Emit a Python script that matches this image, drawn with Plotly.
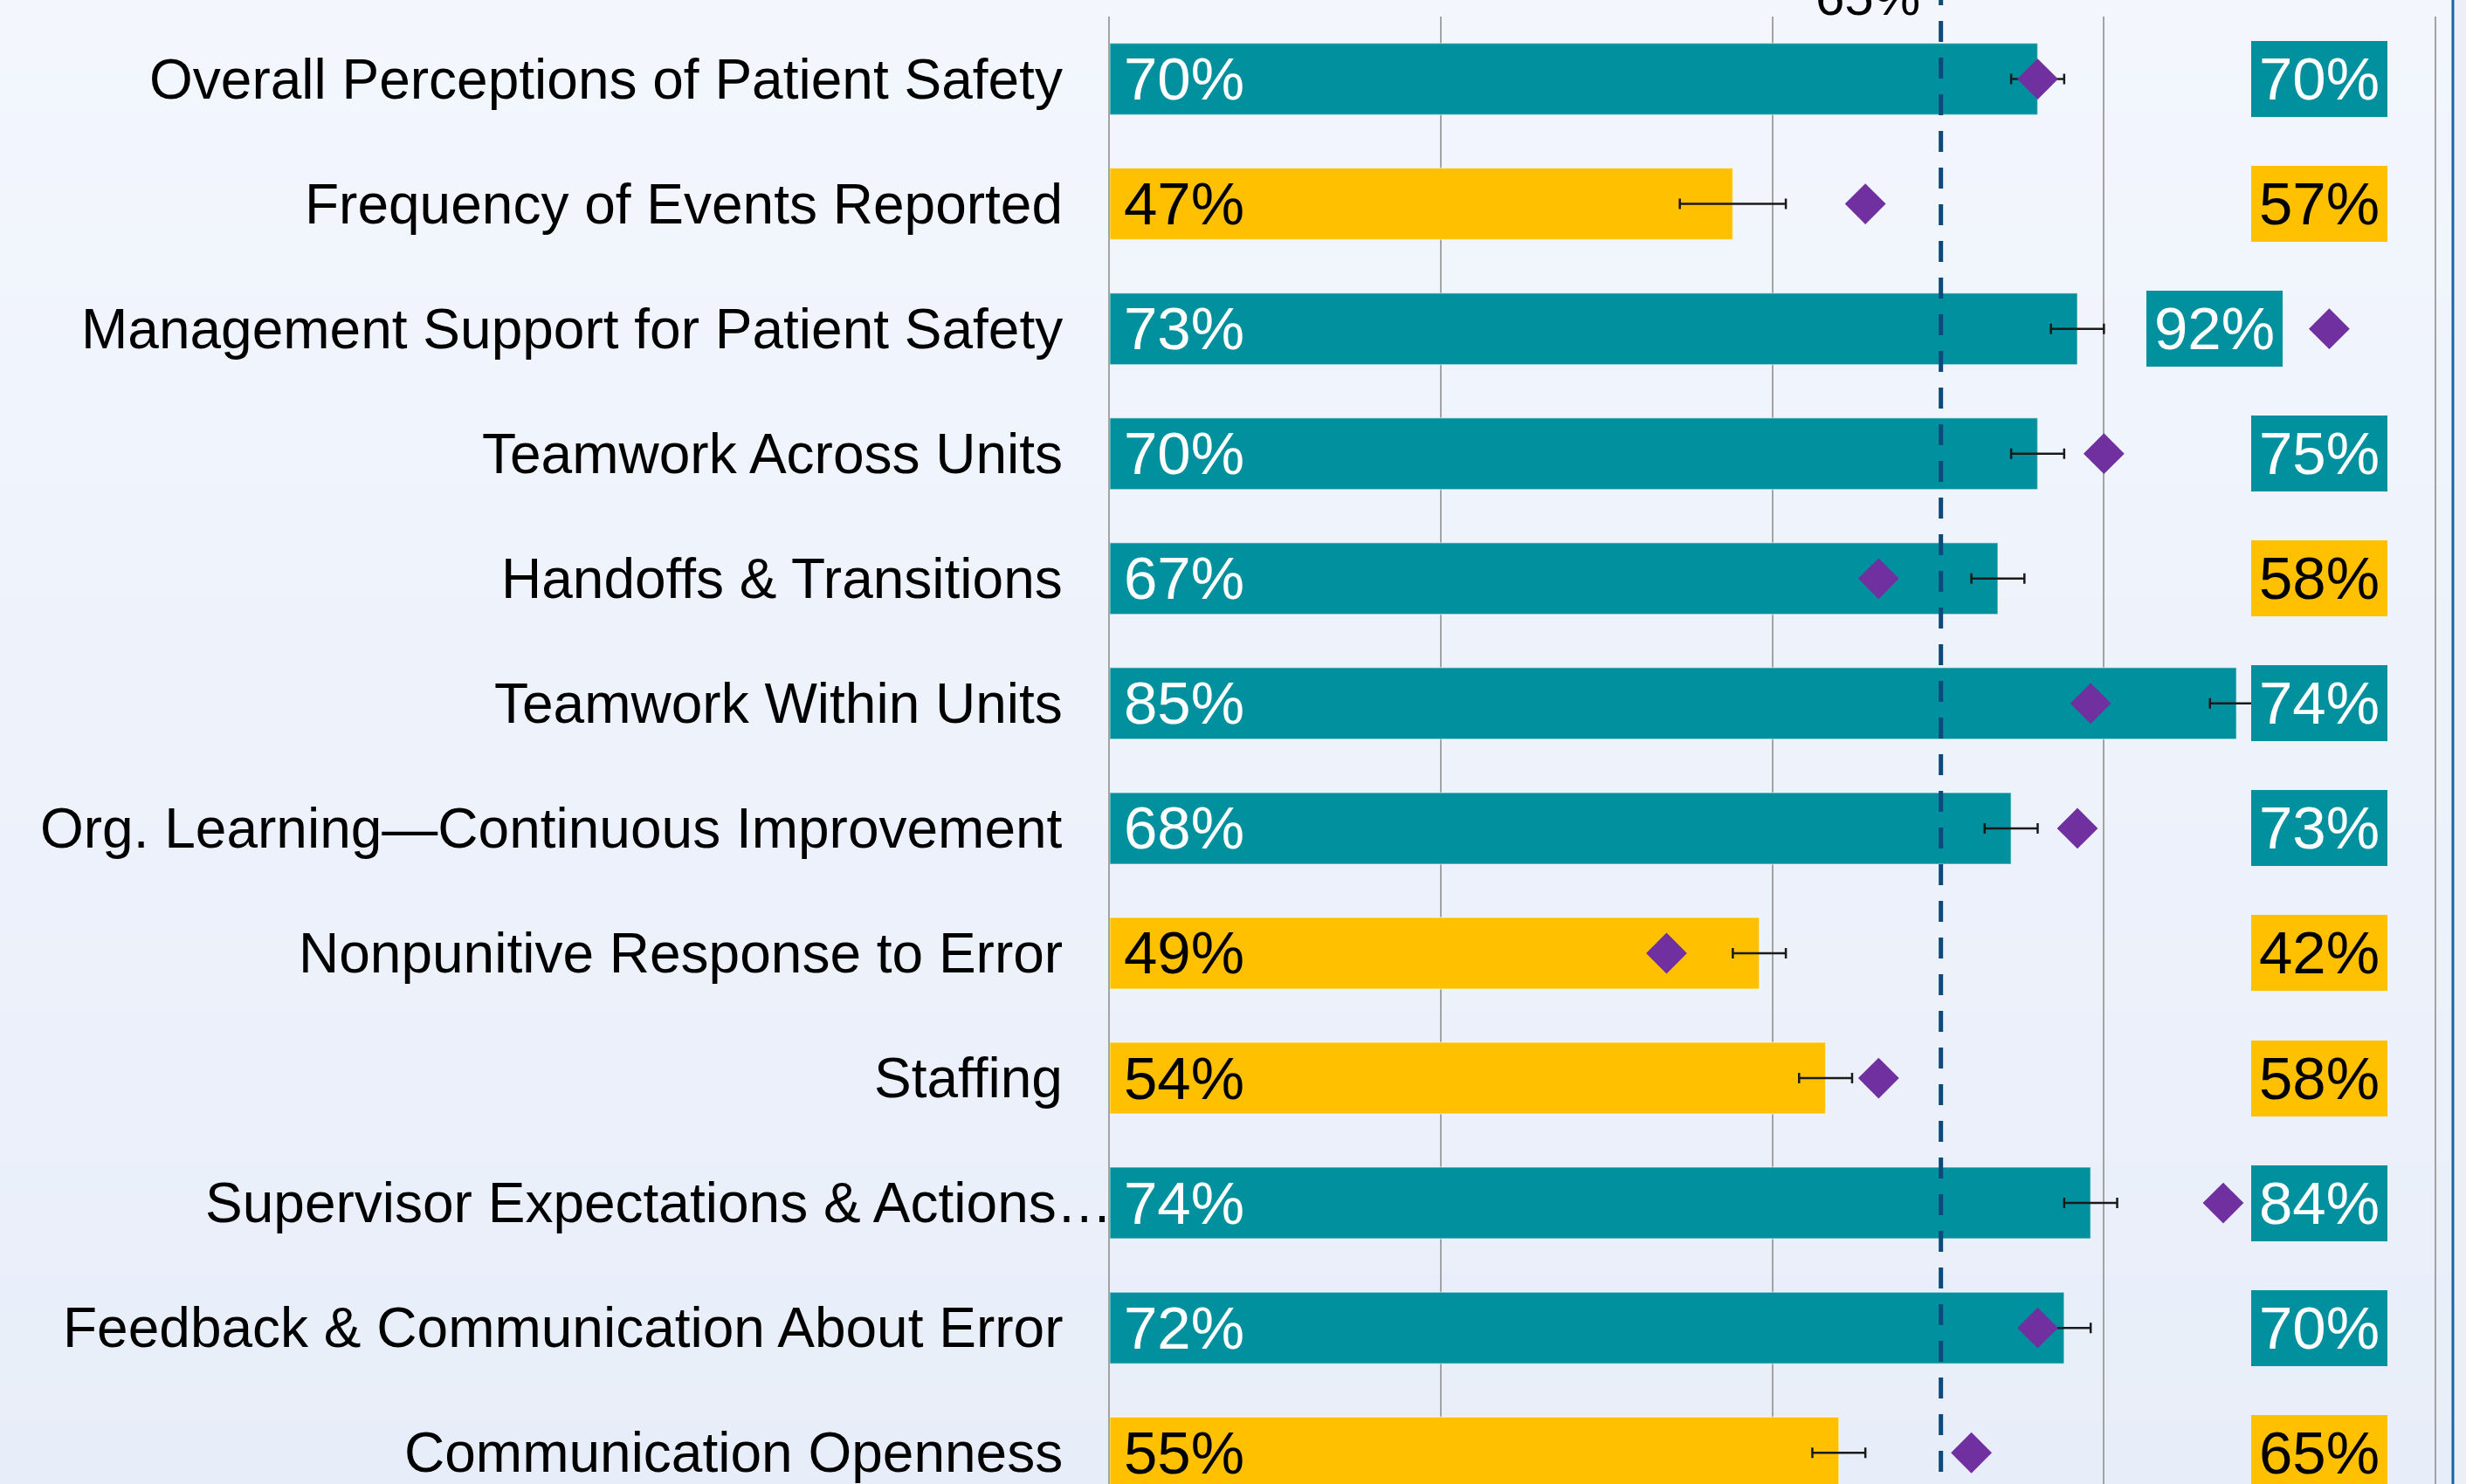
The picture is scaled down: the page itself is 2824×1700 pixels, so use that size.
import plotly.graph_objects as go

# ---------------- data ----------------
categories = [
    "Overall Perceptions of Patient Safety",
    "Frequency of Events Reported",
    "Management Support for Patient Safety",
    "Teamwork Across Units",
    "Handoffs & Transitions",
    "Teamwork Within Units",
    "Org. Learning\u2014Continuous Improvement",
    "Nonpunitive Response to Error",
    "Staffing",
    "Supervisor Expectations & Actions\u2026",
    "Feedback & Communication About Error",
    "Communication Openness",
]
hospital_pct = [70, 47, 73, 70, 67, 85, 68, 49, 54, 74, 72, 55]
benchmark_pct = [70, 57, 92, 75, 58, 74, 73, 42, 58, 84, 70, 65]
error_pct = [2, 4, 2, 2, 2, 2, 2, 2, 2, 2, 2, 2]
reference_line_pct = 62.7
reference_label = "65%"
x_ticks = [0, 25, 50, 75, 100]

# ---------------- style ----------------
TEAL = "#00909E"
GOLD = "#FFC000"
PURPLE = "#7030A0"
DASH_BLUE = "#0B4A7A"
GRID = "#A3A3A3"
FONT = "Arial, 'Liberation Sans', sans-serif"
THRESH = 65

W, H = 2824, 1700
ML, MR, MT, MB = 1271, 20, 19, 0
XMAX = 101
PLOT_W = W - ML - MR
PLOT_H = H - MT - MB


def fill(v):
    return TEAL if v > THRESH else GOLD


def ink(v):
    return "white" if v > THRESH else "black"


fig = go.Figure()

fig.add_trace(go.Bar(
    y=categories, x=hospital_pct, orientation="h",
    marker=dict(color=[fill(v) for v in hospital_pct],
                line=dict(color="rgba(255,255,255,0.45)", width=1.5)),
    error_x=dict(type="data", array=error_pct, color="#1a1a1a",
                 thickness=2.5, width=6),
    hoverinfo="skip",
))

fig.add_trace(go.Scatter(
    y=categories, x=benchmark_pct, mode="markers",
    marker=dict(symbol="diamond", size=36, color=PURPLE, line=dict(width=0)),
    hoverinfo="skip",
))

shapes = []
# background gradient (stripes)
top_c = (243, 246, 253)
bot_c = (232, 238, 249)
N = 40
y_lo, y_hi = -0.01, 1 + (MT + 2) / PLOT_H
for k in range(N):
    t = k / (N - 1)
    c = tuple(round(bot_c[j] + (top_c[j] - bot_c[j]) * t) for j in range(3))
    shapes.append(dict(type="rect", xref="paper", yref="paper",
                       x0=-ML / PLOT_W - 0.01, x1=(W - ML) / PLOT_W + 0.01,
                       y0=y_lo + (y_hi - y_lo) * k / N,
                       y1=y_lo + (y_hi - y_lo) * (k + 1) / N + 0.001,
                       fillcolor="rgb(%d,%d,%d)" % c, line=dict(width=0),
                       layer="below"))
# right strip beyond border
shapes.append(dict(type="rect", xref="paper", yref="paper",
                   x0=(2810.5 - ML) / PLOT_W, x1=(W - ML) / PLOT_W + 0.01,
                   y0=-0.01, y1=y_hi, fillcolor="#ECEFF5",
                   line=dict(width=0), layer="below"))
# blue border line
shapes.append(dict(type="line", xref="paper", yref="paper",
                   x0=(2809 - ML) / PLOT_W, x1=(2809 - ML) / PLOT_W,
                   y0=-0.01, y1=y_hi, line=dict(color="#1F62A3", width=3),
                   layer="above"))
# reference dashed line
shapes.append(dict(type="line", xref="x", yref="paper",
                   x0=reference_line_pct, x1=reference_line_pct,
                   y0=1 + (MT + 18) / PLOT_H, y1=-0.02,
                   line=dict(color=DASH_BLUE, width=5, dash="24px,18px"),
                   layer="above"))

annotations = []
for cat, hv, bv in zip(categories, hospital_pct, benchmark_pct):
    truncated = cat.endswith("\u2026")
    annotations.append(dict(
        xref="paper", x=0, yref="y", y=cat, xanchor="right", yanchor="middle",
        xshift=5 if truncated else -52, text=cat, showarrow=False,
        font=dict(family=FONT, size=64, color="black")))
    annotations.append(dict(
        xref="x", x=0, yref="y", y=cat, xanchor="left", yanchor="middle",
        xshift=14, text="%d%%" % hv, showarrow=False,
        font=dict(family=FONT, size=69, color=ink(hv))))
    right_edge = 96.4 if bv < 86 else bv - 3.5
    annotations.append(dict(
        xref="x", x=right_edge, yref="y", y=cat, xanchor="right",
        yanchor="middle", text="%d%%" % bv, showarrow=False,
        bgcolor=fill(bv), borderpad=0, borderwidth=0,
        width=156, height=87, align="center", valign="middle",
        font=dict(family=FONT, size=69, color=ink(bv))))

annotations.append(dict(
    xref="x", x=reference_line_pct, yref="paper", y=1, xanchor="right",
    yanchor="bottom", xshift=-22, yshift=-13, text=reference_label,
    showarrow=False, font=dict(family=FONT, size=60, color="black")))

fig.update_layout(
    width=W, height=H,
    margin=dict(l=ML, r=MR, t=MT, b=MB, pad=0),
    paper_bgcolor="#EEF2FB", plot_bgcolor="rgba(0,0,0,0)",
    showlegend=False, bargap=0.427,
    font=dict(family=FONT),
    shapes=shapes, annotations=annotations,
)
fig.update_xaxes(range=[0, XMAX], tickvals=x_ticks, showticklabels=False,
                 showgrid=True, gridcolor=GRID, gridwidth=2, zeroline=False,
                 showline=False, fixedrange=True)
fig.update_yaxes(type="category", categoryorder="array",
                 categoryarray=categories,
                 range=[len(categories) - 0.75, -0.5],
                 showticklabels=False, showgrid=False, showline=True,
                 linecolor=GRID, linewidth=2, zeroline=False, fixedrange=True)

fig.write_html(
    "out.html",
    config={"displayModeBar": False},
    post_script="document.body.style.margin='0';"
                "document.body.style.background='#F2F5FC';",
)
